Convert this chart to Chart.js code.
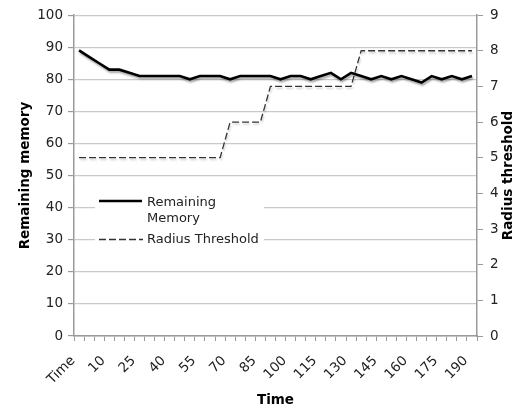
<!DOCTYPE html>
<html>
<head>
<meta charset="utf-8">
<script src="https://cdn.jsdelivr.net/npm/chart.js@4/dist/chart.umd.min.js"></script>
<style>
  html, body { margin: 0; padding: 0; background: #fff; }
  #wrap { width: 515px; height: 409px; position: relative; }
</style>
</head>
<body>
<div id="wrap"><canvas id="c" width="515" height="409"></canvas></div>
<script>
const categories = ['Time','0','5','10','15','20','25','30','35','40','45','50','55','60','65','70','75','80','85','90','95','100','105','110','115','120','125','130','135','140','145','150','155','160','165','170','175','180','185','190'];
const remainingMemory = [89,87,85,83,83,82,81,81,81,81,81,80,81,81,81,80,81,81,81,81,80,81,81,80,81,82,80,82,81,80,81,80,81,80,79,81,80,81,80,81];
const radiusThreshold = [5,5,5,5,5,5,5,5,5,5,5,5,5,5,5,6,6,6,6,7,7,7,7,7,7,7,7,7,8,8,8,8,8,8,8,8,8,8,8,8];
const leftTicks = [0,10,20,30,40,50,60,70,80,90,100];
const rightTicks = [0,1,2,3,4,5,6,7,8,9];

const FONT = 'DejaVu Sans, Verdana, sans-serif';
const GRID = '#c9c9c9';
const AXIS = '#9a9a9a';
const TXT = '#222';

const shadowPlugin = {
  id: 'shadow',
  beforeDatasetDraw(chart, args) {
    const ctx = chart.ctx;
    ctx.save();
    ctx.shadowColor = args.index === 0 ? 'rgba(0,0,0,0.35)' : 'rgba(0,0,0,0.2)';
    ctx.shadowOffsetX = 1;
    ctx.shadowOffsetY = 2;
    ctx.shadowBlur = 2;
  },
  afterDatasetDraw(chart) {
    chart.ctx.restore();
  }
};

const extrasPlugin = {
  id: 'extras',
  afterDraw(chart) {
    const ctx = chart.ctx;
    const ca = chart.chartArea;
    // right axis title (reads bottom to top)
    ctx.save();
    ctx.fillStyle = '#000';
    ctx.font = 'bold 13.5px ' + FONT;
    ctx.textAlign = 'center';
    ctx.textBaseline = 'middle';
    ctx.translate(508, (ca.top + ca.bottom) / 2);
    ctx.rotate(-Math.PI / 2);
    ctx.fillText(chart.options.scales.y1.title.text, 0, 0);
    ctx.restore();

    // legend inside the plot
    const ds = chart.data.datasets;
    ctx.save();
    ctx.fillStyle = '#fff';
    ctx.fillRect(95, 189, 169, 63);
    ctx.font = '13px ' + FONT;
    ctx.fillStyle = TXT;
    ctx.textAlign = 'left';
    ctx.textBaseline = 'middle';
    // item 1
    ctx.strokeStyle = ds[0].borderColor;
    ctx.lineWidth = ds[0].borderWidth;
    ctx.setLineDash([]);
    ctx.beginPath(); ctx.moveTo(99, 201); ctx.lineTo(142, 201); ctx.stroke();
    const words = ds[0].label.split(' ');
    ctx.fillText(words[0], 147, 203);
    ctx.fillText(words.slice(1).join(' '), 147, 219);
    // item 2
    ctx.strokeStyle = ds[1].borderColor;
    ctx.lineWidth = ds[1].borderWidth;
    ctx.setLineDash(ds[1].borderDash);
    ctx.beginPath(); ctx.moveTo(99, 239.5); ctx.lineTo(143, 239.5); ctx.stroke();
    ctx.setLineDash([]);
    ctx.fillText(ds[1].label, 147, 240);
    ctx.restore();
  }
};

new Chart(document.getElementById('c'), {
  type: 'line',
  data: {
    labels: categories,
    datasets: [
      {
        label: 'Remaining Memory',
        data: remainingMemory,
        yAxisID: 'y',
        borderColor: '#000',
        borderWidth: 2.6,
        pointRadius: 0,
        tension: 0,
        fill: false
      },
      {
        label: 'Radius Threshold',
        data: radiusThreshold,
        yAxisID: 'y1',
        borderColor: '#333',
        borderWidth: 1.3,
        borderDash: [7, 3],
        pointRadius: 0,
        tension: 0,
        fill: false
      }
    ]
  },
  options: {
    responsive: false,
    animation: false,
    devicePixelRatio: 1,
    layout: { padding: { top: 15, left: 0, right: 0, bottom: 0 } },
    plugins: {
      legend: { display: false },
      tooltip: { enabled: false }
    },
    scales: {
      x: {
        type: 'category',
        offset: true,
        grid: { offset: true, drawOnChartArea: false, drawTicks: true, tickLength: 5, color: AXIS, tickColor: AXIS },
        border: { color: AXIS, width: 1.5 },
        ticks: {
          autoSkip: false,
          maxRotation: 45,
          minRotation: 45,
          padding: 12,
          labelOffset: -6,
          color: TXT,
          font: { family: FONT, size: 13.5 },
          callback: function(v, i) { return i % 3 === 0 ? this.getLabelForValue(v) : ''; }
        },
        title: { display: true, text: 'Time', color: '#000', font: { family: FONT, size: 13.5, weight: 'bold' }, padding: { top: 0, bottom: 0 } },
        afterFit(s) { s.height = 73; }
      },
      y: {
        position: 'left',
        min: 0, max: 100,
        afterBuildTicks(s) { s.ticks = leftTicks.map(v => ({ value: v })); },
        grid: { color: GRID, tickColor: AXIS, tickLength: 6, lineWidth: 1.2 },
        border: { color: AXIS, width: 1.5 },
        ticks: { padding: 5, color: TXT, font: { family: FONT, size: 13.5 } },
        title: { display: true, text: 'Remaining memory', color: '#000', font: { family: FONT, size: 13.5, weight: 'bold' }, padding: { top: 17, bottom: 0 } },
        afterFit(s) { s.width = 74; }
      },
      y1: {
        position: 'right',
        min: 0, max: 9,
        afterBuildTicks(s) { s.ticks = rightTicks.map(v => ({ value: v })); },
        grid: { drawOnChartArea: false, color: AXIS, tickColor: AXIS, tickLength: 6 },
        border: { color: AXIS, width: 1.5 },
        ticks: { padding: 7, color: TXT, font: { family: FONT, size: 13.5 } },
        title: { display: false, text: 'Radius threshold' },
        afterFit(s) { s.width = 38; }
      }
    }
  },
  plugins: [shadowPlugin, extrasPlugin]
});
</script>
</body>
</html>
